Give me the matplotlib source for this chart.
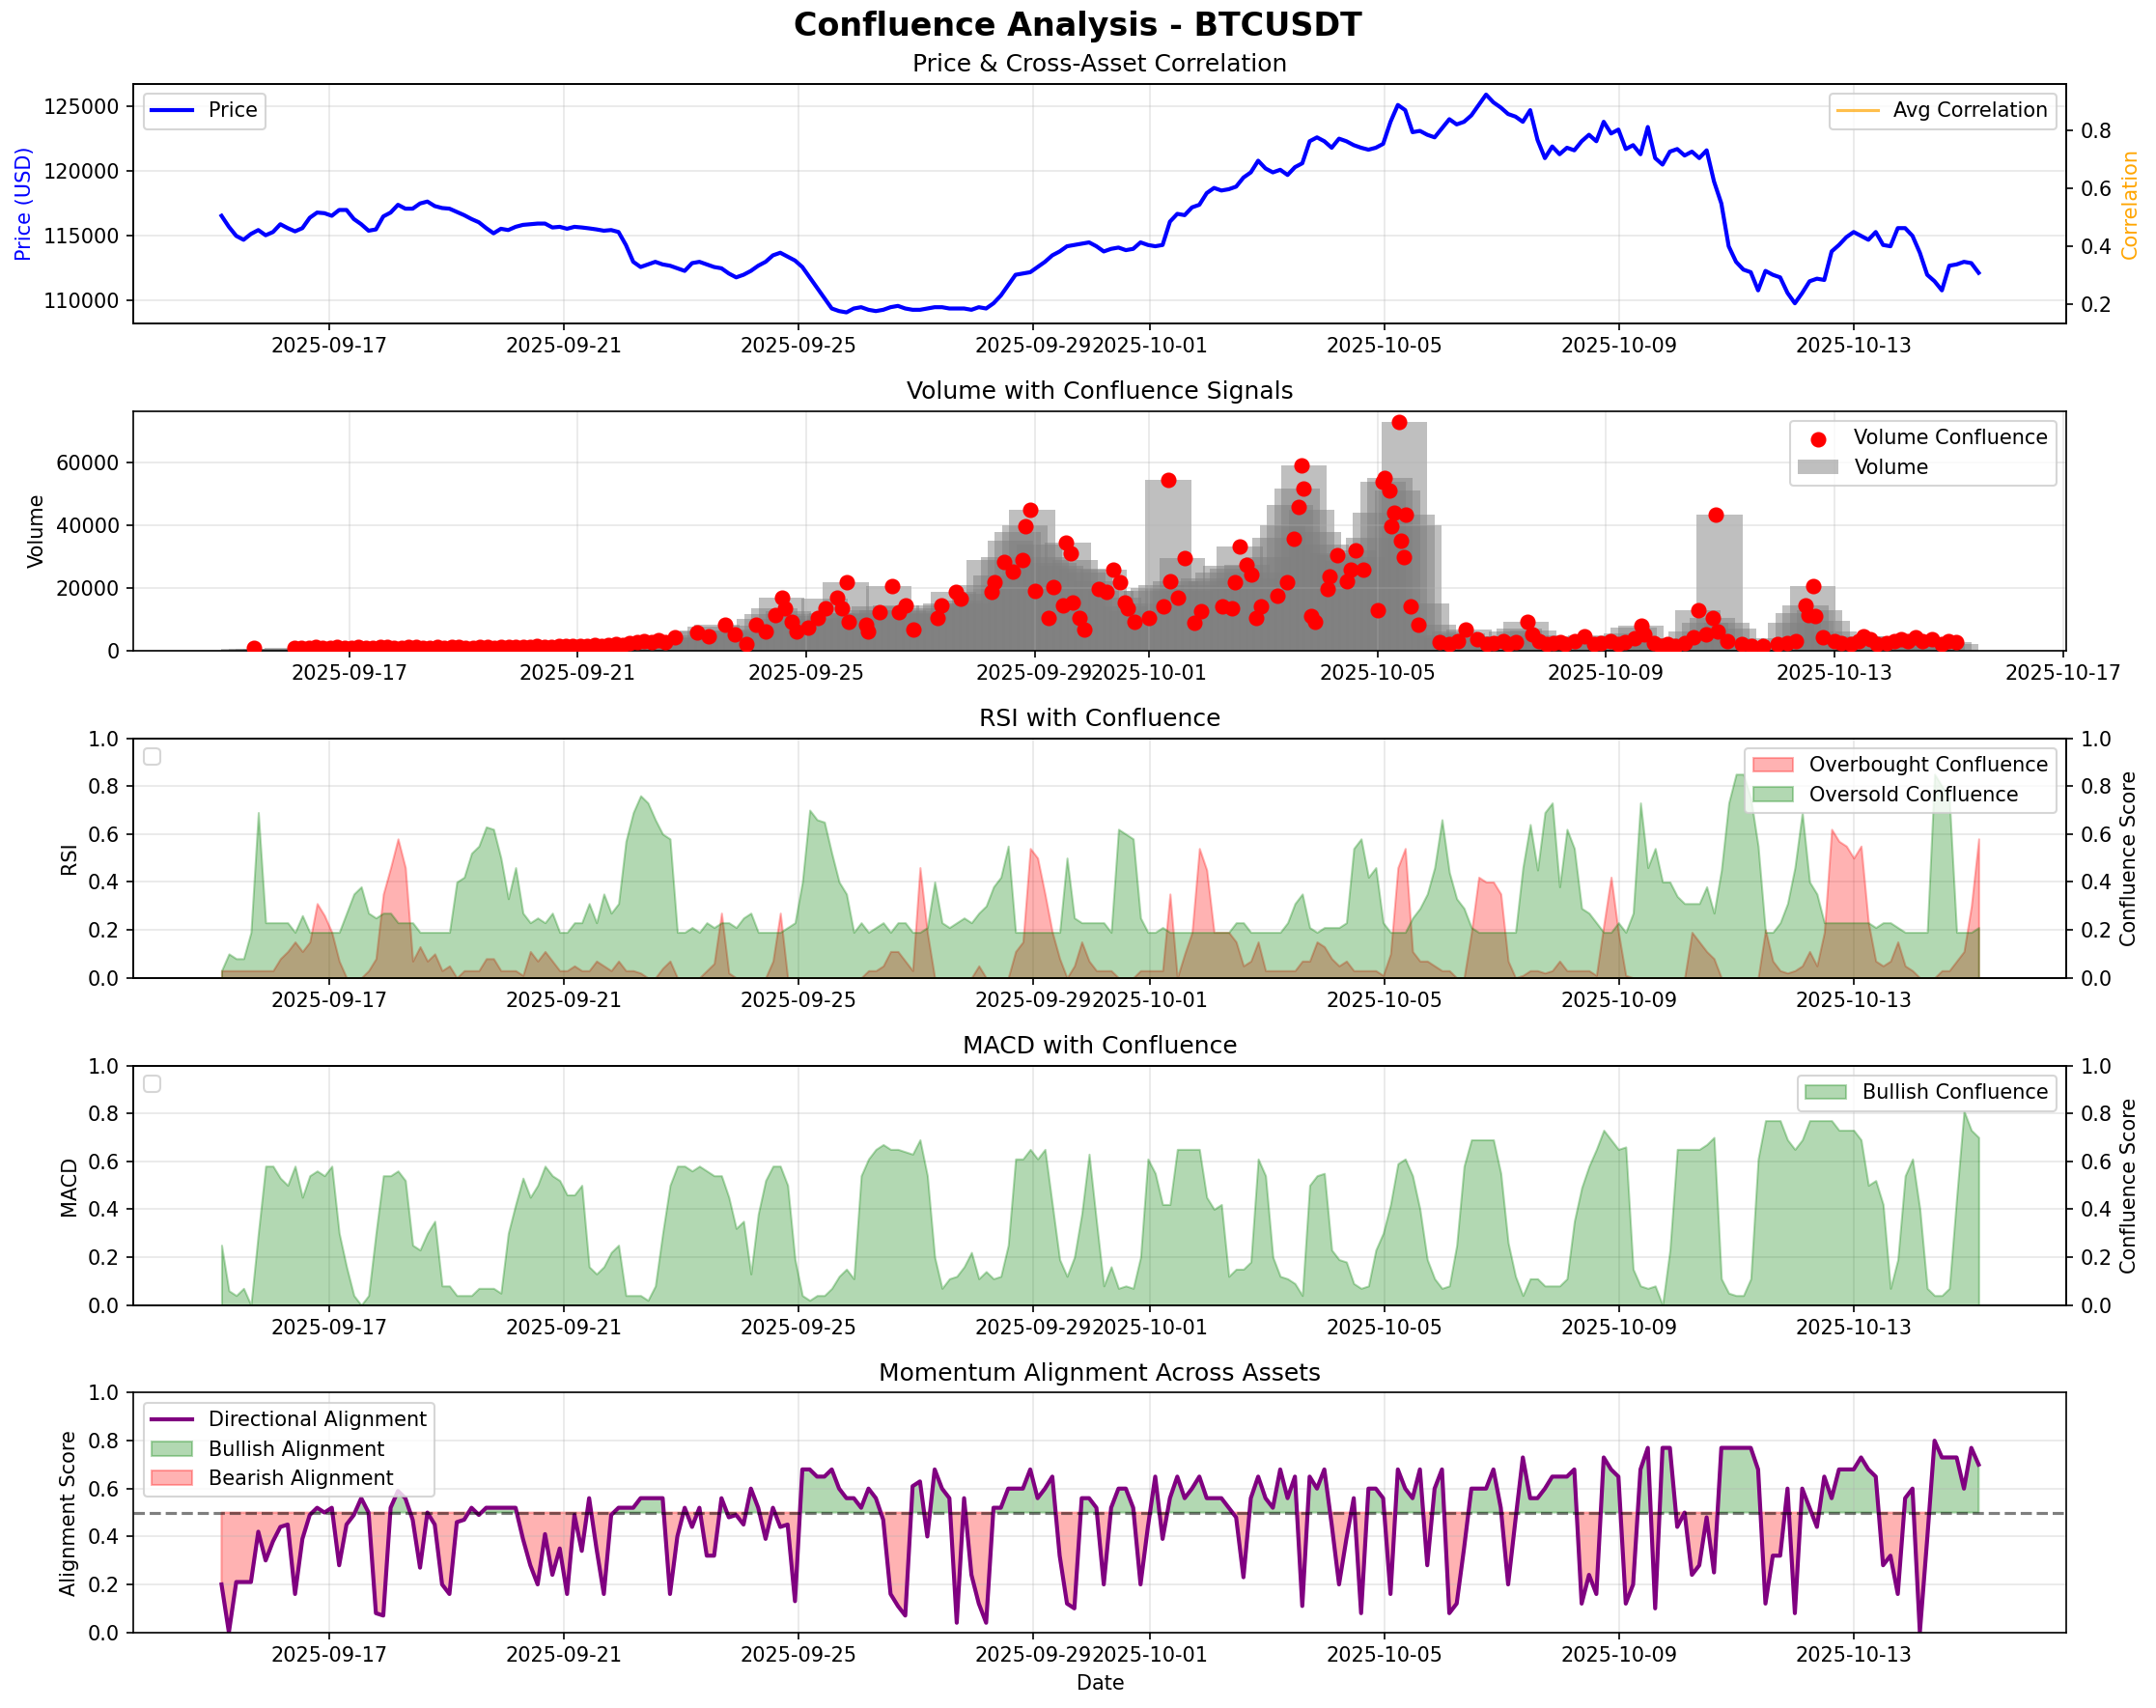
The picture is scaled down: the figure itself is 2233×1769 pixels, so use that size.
import numpy as np
import pandas as pd
import matplotlib
matplotlib.use("Agg")
import matplotlib.pyplot as plt
import matplotlib.dates as mdates

# ---------------- data (240 samples, 2025-09-15 04:00 -> 2025-10-15 03:00) ----------------
start_time = "2025-09-15 04:00"
end_time = "2025-10-15 03:00"
n_points = 240

price = [
    116550, 115700, 115000, 114700, 115150, 115450, 115050, 115300,
    115900, 115600, 115350, 115600, 116400, 116800, 116750, 116550,
    117000, 117000, 116300, 115900, 115400, 115500, 116500, 116800,
    117400, 117100, 117100, 117500, 117650, 117300, 117150, 117100,
    116850, 116600, 116300, 116050, 115600, 115200, 115550, 115450,
    115700, 115850, 115900, 115950, 115950, 115650, 115700, 115550,
    115700, 115650, 115580, 115500, 115400, 115450, 115300, 114300,
    113000, 112600, 112800, 113000, 112800, 112700, 112500, 112300,
    112900, 113000, 112800, 112600, 112500, 112100, 111800, 112000,
    112300, 112700, 113000, 113500, 113700, 113400, 113100, 112600,
    111800, 111000, 110200, 109400, 109200, 109100, 109400, 109500,
    109300, 109200, 109300, 109500, 109600, 109400, 109300, 109300,
    109400, 109500, 109500, 109400, 109400, 109400, 109300, 109500,
    109400, 109800, 110400, 111200, 112000, 112100, 112200, 112600,
    113000, 113500, 113800, 114200, 114300, 114400, 114500, 114200,
    113800, 114000, 114100, 113900, 114000, 114500, 114300, 114200,
    114300, 116100, 116700, 116600, 117200, 117400, 118300, 118700,
    118500, 118600, 118800, 119500, 119900, 120800, 120200, 119900,
    120100, 119700, 120300, 120600, 122300, 122600, 122300, 121800,
    122500, 122300, 122000, 121800, 121650, 121800, 122100, 123800,
    125100, 124700, 123000, 123100, 122800, 122600, 123300, 124000,
    123600, 123800, 124300, 125100, 125900, 125300, 124900, 124400,
    124200, 123800, 124700, 122400, 121000, 121900, 121300, 121800,
    121600, 122300, 122800, 122300, 123800, 122900, 123200, 121700,
    122000, 121300, 123400, 121000, 120500, 121500, 121700, 121200,
    121500, 121000, 121600, 119200, 117500, 114200, 113000, 112400,
    112200, 110800, 112300, 112000, 111800, 110600, 109800, 110600,
    111500, 111700, 111600, 113800, 114300, 114900, 115300, 115000,
    114700, 115300, 114300, 114200, 115600, 115600, 115000, 113700,
    112000, 111500, 110800, 112700, 112800, 113000, 112900, 112150,
]

volume = [
    600, 400, 500, 700, 500, 600, 800, 600,
    500, 700, 900, 600, 800, 1000, 700, 600,
    900, 800, 700, 1000, 900, 800, 700, 900,
    1100, 800, 700, 900, 800, 1000, 900, 700,
    800, 1000, 900, 800, 1000, 900, 1100, 1000,
    900, 1200, 1100, 1000, 1300, 1200, 1400, 1200,
    1300, 1500, 1400, 1600, 1800, 1700, 2200, 2500,
    2800, 3000, 3500, 3200, 3800, 4200, 5000, 6000,
    6500, 7500, 8300, 6500, 5500, 6000, 6800, 8000,
    10000, 11500, 13500, 16900, 12500, 11000, 9500, 10000,
    11500, 16500, 12000, 10500, 21700, 12000, 11500, 13000,
    14000, 13000, 20700, 14500, 13000, 12500, 11500, 12000,
    13500, 14500, 15000, 18600, 16000, 15000, 18000, 21000,
    29000, 24000, 30000, 35000, 38000, 40000, 45000, 34000,
    30000, 28000, 27000, 34600, 29000, 26000, 25000, 22000,
    25800, 19000, 17000, 14000, 12500, 15000, 19000, 20000,
    21000, 54600, 22000, 29500, 19000, 21000, 23000, 22000,
    25000, 27000, 26000, 33100, 27400, 23000, 25000, 30000,
    36000, 40000, 46500, 51700, 59100, 45000, 38000, 34000,
    31000, 30500, 28500, 32000, 30000, 36000, 44000, 53800,
    55300, 51200, 72900, 43400, 40000, 15000, 8300, 5000,
    4000, 6000, 5500, 6700, 4500, 4000, 3000, 3500,
    4500, 6000, 7000, 9300, 6500, 5000, 4000, 3000,
    3500, 2500, 3000, 4650, 5000, 3500, 3000, 3500,
    4000, 5500, 7400, 7800, 4000, 3000, 2500, 3000,
    3500, 4000, 6000, 12900, 9000, 10300, 43400, 9000,
    7000, 4000, 2500, 2000, 1800, 2200, 2000, 4000,
    9000, 12000, 14500, 20700, 13000, 9500, 6000, 3500,
    3000, 3500, 4650, 3500, 3000, 2500, 3500, 4500,
    3000, 3500, 2800, 3200, 3000, 2500, 2800, 2200,
]

# volume confluence signals: (hours after start, volume)
vol_conf_points = [
    (4, 800), (21, 900), (24, 1000), (27, 800), (30, 1100), (33, 900), (36, 1000), (39, 1200),
    (42, 900), (45, 1000), (48, 1100), (51, 900), (54, 1000), (57, 1200), (60, 1100), (63, 1000),
    (66, 900), (69, 1100), (72, 1300), (75, 1000), (78, 900), (81, 1100), (84, 1000), (87, 1200),
    (90, 1100), (93, 900), (96, 1000), (99, 1200), (102, 1100), (105, 1000), (108, 1200), (111, 1100),
    (114, 1300), (117, 1200), (120, 1100), (123, 1400), (126, 1300), (129, 1200), (132, 1500),
    (135, 1400), (138, 1600), (141, 1400), (144, 1500), (147, 1700), (150, 1600), (153, 1800),
    (156, 2000), (159, 1900), (162, 2400), (165, 2700), (168, 3000), (171, 2600), (174, 3200),
    (177, 2800),
    (181, 4100), (190, 5700), (195, 4650), (202, 8300), (206, 5200), (211, 2000), (215, 8300),
    (219, 6200), (223, 11400), (226, 17000), (227, 13400), (230, 9300), (232, 6200), (237, 7200),
    (241, 10300), (244, 13400), (249, 17000), (251, 13400), (253, 21900), (254, 9300), (261, 8300),
    (262, 6200), (267, 12400), (272, 20700), (275, 12400), (278, 14500), (281, 6700), (291, 10300),
    (293, 14500), (299, 18600), (301, 16500), (314, 18600), (315, 21700), (319, 28400), (323, 25300),
    (327, 29000), (328, 39800), (330, 45000), (332, 19100), (338, 10300), (340, 20200), (344, 14500),
    (345, 34600), (347, 31000), (348, 15500), (351, 10300), (353, 6700), (359, 19600), (362, 18600),
    (365, 25800), (368, 21700), (370, 15500), (371, 13400), (374, 9300), (380, 10300), (386, 14000),
    (388, 54600), (389, 22200), (392, 17000), (395, 29500), (399, 8800), (402, 12600), (411, 14000),
    (415, 13400), (416, 21900), (418, 33100), (421, 27400), (423, 24300), (425, 10300), (427, 14000),
    (434, 17600), (438, 21900), (441, 35700), (443, 46000), (444, 59100), (445, 51700), (448, 10900),
    (450, 9300), (455, 19600), (456, 23800), (459, 30500), (463, 22200), (465, 25800), (467, 32000),
    (470, 25800), (476, 12900), (478, 53800), (479, 55300), (481, 51200), (482, 39800), (483, 43900),
    (485, 72900), (486, 35100), (487, 30000), (488, 43400), (490, 14000), (493, 8300), (502, 2600),
    (506, 2100), (510, 3000), (513, 6700), (518, 3600), (522, 2000), (525, 2500), (529, 3100),
    (531, 2000), (534, 2600), (539, 9300), (541, 5200), (544, 3000), (547, 2100), (550, 2500),
    (553, 2600), (555, 2100), (559, 3000), (563, 4650), (567, 2100), (570, 2500), (574, 3100),
    (577, 2000), (580, 2600), (584, 4000), (587, 7800), (588, 5200), (592, 2500), (595, 1600),
    (598, 2000), (601, 1600), (605, 2500), (609, 4100), (611, 12900), (614, 5200), (617, 10300),
    (618, 43400), (619, 6200), (623, 3000), (629, 2100), (633, 1600), (638, 1600), (644, 2100),
    (648, 2500), (652, 3100), (656, 14500), (657, 11400), (659, 20700), (660, 10900), (663, 4100),
    (668, 3100), (671, 2500), (675, 2100), (678, 3000), (680, 4650), (683, 3500), (686, 2100),
    (690, 2500), (693, 3000), (696, 3600), (699, 3000), (702, 4100), (705, 3000), (709, 3600),
    (713, 2100), (716, 3000), (719, 2600),
]

rsi_overbought = [
    0.03, 0.03, 0.03, 0.03, 0.03, 0.03, 0.03, 0.03,
    0.08, 0.11, 0.15, 0.11, 0.15, 0.31, 0.26, 0.19,
    0.07, 0.00, 0.00, 0.00, 0.03, 0.08, 0.35, 0.46,
    0.58, 0.46, 0.07, 0.13, 0.07, 0.10, 0.03, 0.05,
    0.00, 0.03, 0.03, 0.03, 0.08, 0.08, 0.03, 0.03,
    0.03, 0.01, 0.11, 0.07, 0.11, 0.07, 0.03, 0.03,
    0.05, 0.03, 0.03, 0.07, 0.05, 0.03, 0.07, 0.03,
    0.03, 0.02, 0.00, 0.00, 0.04, 0.07, 0.00, 0.00,
    0.00, 0.00, 0.03, 0.06, 0.27, 0.02, 0.00, 0.00,
    0.00, 0.00, 0.00, 0.07, 0.27, 0.00, 0.00, 0.00,
    0.00, 0.00, 0.00, 0.00, 0.00, 0.00, 0.00, 0.00,
    0.03, 0.03, 0.05, 0.11, 0.11, 0.07, 0.03, 0.46,
    0.19, 0.00, 0.00, 0.00, 0.00, 0.00, 0.00, 0.05,
    0.00, 0.00, 0.00, 0.00, 0.11, 0.15, 0.54, 0.50,
    0.35, 0.19, 0.08, 0.00, 0.05, 0.15, 0.07, 0.03,
    0.03, 0.03, 0.00, 0.00, 0.00, 0.03, 0.03, 0.03,
    0.03, 0.35, 0.00, 0.10, 0.19, 0.54, 0.45, 0.19,
    0.19, 0.19, 0.15, 0.05, 0.07, 0.15, 0.03, 0.03,
    0.03, 0.03, 0.03, 0.07, 0.07, 0.15, 0.13, 0.08,
    0.05, 0.07, 0.03, 0.03, 0.03, 0.03, 0.01, 0.10,
    0.46, 0.54, 0.11, 0.07, 0.07, 0.05, 0.03, 0.03,
    0.00, 0.00, 0.19, 0.42, 0.40, 0.40, 0.35, 0.07,
    0.00, 0.01, 0.03, 0.03, 0.02, 0.03, 0.07, 0.03,
    0.03, 0.03, 0.03, 0.01, 0.22, 0.42, 0.19, 0.01,
    0.00, 0.00, 0.00, 0.00, 0.00, 0.00, 0.00, 0.00,
    0.19, 0.15, 0.11, 0.08, 0.00, 0.00, 0.00, 0.00,
    0.00, 0.00, 0.20, 0.07, 0.03, 0.02, 0.03, 0.05,
    0.11, 0.05, 0.19, 0.62, 0.57, 0.55, 0.50, 0.55,
    0.23, 0.07, 0.05, 0.07, 0.15, 0.05, 0.03, 0.00,
    0.00, 0.00, 0.03, 0.03, 0.07, 0.11, 0.30, 0.58,
]

rsi_oversold = [
    0.03, 0.10, 0.08, 0.08, 0.19, 0.69, 0.23, 0.23,
    0.23, 0.23, 0.19, 0.26, 0.19, 0.19, 0.19, 0.19,
    0.19, 0.27, 0.35, 0.38, 0.27, 0.25, 0.27, 0.27,
    0.23, 0.23, 0.23, 0.19, 0.19, 0.19, 0.19, 0.19,
    0.40, 0.42, 0.52, 0.55, 0.63, 0.62, 0.50, 0.33,
    0.46, 0.27, 0.23, 0.25, 0.23, 0.27, 0.19, 0.19,
    0.23, 0.23, 0.31, 0.23, 0.35, 0.27, 0.31, 0.57,
    0.69, 0.76, 0.73, 0.66, 0.60, 0.58, 0.19, 0.19,
    0.21, 0.19, 0.23, 0.21, 0.23, 0.23, 0.21, 0.25,
    0.27, 0.19, 0.19, 0.19, 0.19, 0.21, 0.23, 0.40,
    0.70, 0.66, 0.65, 0.52, 0.40, 0.35, 0.19, 0.23,
    0.19, 0.21, 0.23, 0.19, 0.23, 0.23, 0.19, 0.19,
    0.21, 0.40, 0.23, 0.21, 0.23, 0.25, 0.23, 0.27,
    0.30, 0.38, 0.42, 0.55, 0.19, 0.19, 0.19, 0.19,
    0.19, 0.19, 0.19, 0.50, 0.25, 0.23, 0.23, 0.23,
    0.23, 0.19, 0.62, 0.60, 0.58, 0.25, 0.19, 0.19,
    0.21, 0.19, 0.19, 0.19, 0.19, 0.19, 0.19, 0.19,
    0.19, 0.19, 0.23, 0.23, 0.19, 0.19, 0.19, 0.19,
    0.19, 0.23, 0.31, 0.35, 0.21, 0.19, 0.21, 0.21,
    0.21, 0.23, 0.54, 0.58, 0.42, 0.46, 0.23, 0.19,
    0.19, 0.19, 0.25, 0.29, 0.35, 0.46, 0.66, 0.44,
    0.33, 0.29, 0.21, 0.19, 0.19, 0.19, 0.19, 0.19,
    0.19, 0.46, 0.64, 0.45, 0.69, 0.73, 0.38, 0.62,
    0.54, 0.29, 0.27, 0.23, 0.19, 0.19, 0.23, 0.19,
    0.27, 0.73, 0.46, 0.54, 0.40, 0.40, 0.34, 0.31,
    0.31, 0.31, 0.38, 0.27, 0.45, 0.73, 0.85, 0.85,
    0.75, 0.55, 0.19, 0.19, 0.23, 0.31, 0.46, 0.69,
    0.40, 0.35, 0.23, 0.23, 0.23, 0.23, 0.23, 0.23,
    0.23, 0.21, 0.23, 0.23, 0.21, 0.19, 0.19, 0.19,
    0.19, 0.85, 0.80, 0.75, 0.19, 0.19, 0.19, 0.21,
]

macd_bullish = [
    0.25, 0.06, 0.04, 0.07, 0.00, 0.30, 0.58, 0.58,
    0.53, 0.50, 0.58, 0.45, 0.54, 0.56, 0.54, 0.58,
    0.30, 0.16, 0.04, 0.00, 0.04, 0.30, 0.54, 0.54,
    0.56, 0.52, 0.25, 0.23, 0.30, 0.35, 0.08, 0.08,
    0.04, 0.04, 0.04, 0.07, 0.07, 0.07, 0.05, 0.30,
    0.42, 0.53, 0.45, 0.50, 0.58, 0.54, 0.52, 0.46,
    0.46, 0.50, 0.16, 0.13, 0.16, 0.22, 0.25, 0.04,
    0.04, 0.04, 0.02, 0.08, 0.30, 0.50, 0.58, 0.58,
    0.56, 0.58, 0.56, 0.54, 0.54, 0.45, 0.32, 0.35,
    0.13, 0.38, 0.52, 0.58, 0.58, 0.50, 0.19, 0.04,
    0.02, 0.04, 0.04, 0.07, 0.12, 0.15, 0.11, 0.54,
    0.61, 0.65, 0.67, 0.65, 0.65, 0.64, 0.63, 0.69,
    0.54, 0.20, 0.07, 0.11, 0.12, 0.16, 0.22, 0.11,
    0.14, 0.11, 0.12, 0.25, 0.61, 0.61, 0.65, 0.61,
    0.65, 0.42, 0.19, 0.12, 0.20, 0.38, 0.63, 0.35,
    0.08, 0.16, 0.07, 0.08, 0.07, 0.20, 0.61, 0.55,
    0.42, 0.42, 0.65, 0.65, 0.65, 0.65, 0.45, 0.40,
    0.42, 0.12, 0.15, 0.15, 0.18, 0.61, 0.54, 0.20,
    0.12, 0.11, 0.09, 0.04, 0.50, 0.54, 0.55, 0.23,
    0.19, 0.18, 0.09, 0.07, 0.08, 0.23, 0.30, 0.42,
    0.59, 0.61, 0.54, 0.40, 0.19, 0.11, 0.07, 0.08,
    0.25, 0.58, 0.69, 0.69, 0.69, 0.69, 0.55, 0.26,
    0.12, 0.04, 0.11, 0.11, 0.08, 0.08, 0.08, 0.11,
    0.35, 0.49, 0.58, 0.65, 0.73, 0.69, 0.65, 0.66,
    0.15, 0.08, 0.07, 0.08, 0.00, 0.23, 0.65, 0.65,
    0.65, 0.65, 0.67, 0.70, 0.11, 0.05, 0.04, 0.04,
    0.11, 0.61, 0.77, 0.77, 0.77, 0.69, 0.65, 0.69,
    0.77, 0.77, 0.77, 0.77, 0.73, 0.73, 0.73, 0.69,
    0.50, 0.52, 0.42, 0.07, 0.19, 0.54, 0.61, 0.40,
    0.07, 0.04, 0.04, 0.07, 0.45, 0.81, 0.73, 0.70,
]

alignment = [
    0.20, 0.00, 0.21, 0.21, 0.21, 0.42, 0.30, 0.38,
    0.44, 0.45, 0.16, 0.39, 0.49, 0.52, 0.50, 0.52,
    0.28, 0.45, 0.49, 0.56, 0.50, 0.08, 0.07, 0.52,
    0.59, 0.56, 0.47, 0.27, 0.50, 0.45, 0.20, 0.16,
    0.46, 0.47, 0.52, 0.49, 0.52, 0.52, 0.52, 0.52,
    0.52, 0.39, 0.28, 0.20, 0.41, 0.24, 0.35, 0.16,
    0.49, 0.34, 0.56, 0.35, 0.16, 0.49, 0.52, 0.52,
    0.52, 0.56, 0.56, 0.56, 0.56, 0.16, 0.40, 0.52,
    0.44, 0.52, 0.32, 0.32, 0.56, 0.48, 0.49, 0.45,
    0.60, 0.52, 0.39, 0.52, 0.44, 0.45, 0.13, 0.68,
    0.68, 0.65, 0.65, 0.68, 0.60, 0.56, 0.56, 0.52,
    0.60, 0.56, 0.47, 0.16, 0.11, 0.07, 0.61, 0.63,
    0.40, 0.68, 0.60, 0.56, 0.04, 0.56, 0.24, 0.12,
    0.04, 0.52, 0.52, 0.60, 0.60, 0.60, 0.68, 0.56,
    0.60, 0.65, 0.32, 0.12, 0.10, 0.56, 0.56, 0.52,
    0.20, 0.52, 0.60, 0.60, 0.52, 0.20, 0.44, 0.65,
    0.39, 0.56, 0.65, 0.56, 0.60, 0.65, 0.56, 0.56,
    0.56, 0.52, 0.48, 0.23, 0.56, 0.65, 0.56, 0.52,
    0.68, 0.56, 0.65, 0.11, 0.65, 0.60, 0.68, 0.45,
    0.20, 0.39, 0.56, 0.08, 0.60, 0.60, 0.56, 0.16,
    0.68, 0.60, 0.56, 0.68, 0.28, 0.60, 0.68, 0.08,
    0.12, 0.35, 0.60, 0.60, 0.60, 0.68, 0.52, 0.20,
    0.47, 0.73, 0.56, 0.56, 0.60, 0.65, 0.65, 0.65,
    0.68, 0.12, 0.24, 0.16, 0.73, 0.68, 0.65, 0.12,
    0.20, 0.68, 0.77, 0.10, 0.77, 0.77, 0.44, 0.50,
    0.24, 0.28, 0.48, 0.25, 0.77, 0.77, 0.77, 0.77,
    0.77, 0.68, 0.12, 0.32, 0.32, 0.60, 0.08, 0.60,
    0.52, 0.44, 0.65, 0.56, 0.68, 0.68, 0.68, 0.73,
    0.68, 0.65, 0.28, 0.32, 0.16, 0.56, 0.60, 0.00,
    0.39, 0.80, 0.73, 0.73, 0.73, 0.60, 0.77, 0.70,
]

correlation_ylim = (0.134, 0.962)

# ---------------- build ----------------
times = pd.date_range(start_time, end_time, periods=n_points)
price = np.array(price, dtype=float)
volume = np.array(volume, dtype=float)
rsi_overbought = np.array(rsi_overbought)
rsi_oversold = np.array(rsi_oversold)
macd_bullish = np.array(macd_bullish)
alignment = np.array(alignment)
conf_hours = [p[0] for p in vol_conf_points]
conf_vals = [p[1] for p in vol_conf_points]
conf_times = pd.Timestamp(start_time) + pd.to_timedelta(conf_hours, unit="h")

fig, axes = plt.subplots(5, 1, figsize=(2233 / 150, 1769 / 150), dpi=150)
fig.subplots_adjust(left=0.062, right=0.9585, top=0.951, bottom=0.0443, hspace=0.366)
fig.suptitle("Confluence Analysis - BTCUSDT", fontsize=16, fontweight="bold", y=0.994)

# 1. Price & correlation
ax = axes[0]
ax.plot(times, price, color="blue", linewidth=2, label="Price")
ax.set_ylabel("Price (USD)", color="blue")
ax.set_title("Price & Cross-Asset Correlation")
ax.grid(True, alpha=0.3)
ax.legend(loc="upper left")
axr = ax.twinx()
axr.plot([], [], color="orange", alpha=0.7, linewidth=1.5, label="Avg Correlation")
axr.set_ylim(*correlation_ylim)
axr.set_ylabel("Correlation", color="orange")
axr.legend(loc="upper right")

# 2. Volume
ax = axes[1]
ax.bar(times, volume, width=0.8, alpha=0.5, color="gray", label="Volume")
ax.scatter(conf_times, conf_vals, color="red", s=45, zorder=5, label="Volume Confluence")
ax.set_ylabel("Volume")
ax.set_title("Volume with Confluence Signals")
ax.grid(True, alpha=0.3)
ax.legend(loc="upper right")

# 3. RSI
ax = axes[2]
ax.xaxis_date()
ax.set_ylabel("RSI")
ax.set_title("RSI with Confluence")
ax.grid(True, alpha=0.3)
ax.set_ylim(0, 1)
ax.legend(loc="upper left")
axr = ax.twinx()
axr.fill_between(times, 0, rsi_overbought, color="red", alpha=0.3, label="Overbought Confluence")
axr.fill_between(times, 0, rsi_oversold, color="green", alpha=0.3, label="Oversold Confluence")
axr.set_ylim(0, 1)
axr.set_ylabel("Confluence Score")
axr.legend(loc="upper right")

# 4. MACD
ax = axes[3]
ax.xaxis_date()
ax.set_ylabel("MACD")
ax.set_title("MACD with Confluence")
ax.grid(True, alpha=0.3)
ax.set_ylim(0, 1)
ax.legend(loc="upper left")
axr = ax.twinx()
axr.fill_between(times, 0, macd_bullish, color="green", alpha=0.3, label="Bullish Confluence")
axr.set_ylim(0, 1)
axr.set_ylabel("Confluence Score")
axr.legend(loc="upper right")

# 5. Alignment
ax = axes[4]
ax.plot(times, alignment, color="purple", linewidth=2, label="Directional Alignment")
ax.fill_between(times, 0.5, alignment, where=alignment >= 0.5, interpolate=True,
                color="green", alpha=0.3, label="Bullish Alignment")
ax.fill_between(times, 0.5, alignment, where=alignment < 0.5, interpolate=True,
                color="red", alpha=0.3, label="Bearish Alignment")
ax.axhline(0.5, color="black", linestyle="--", alpha=0.5, linewidth=1.5)
ax.set_ylim(0, 1)
ax.set_ylabel("Alignment Score")
ax.set_xlabel("Date")
ax.set_title("Momentum Alignment Across Assets")
ax.grid(True, alpha=0.3)
ax.legend(loc="upper left")

fig.savefig("out.png", dpi=150)
